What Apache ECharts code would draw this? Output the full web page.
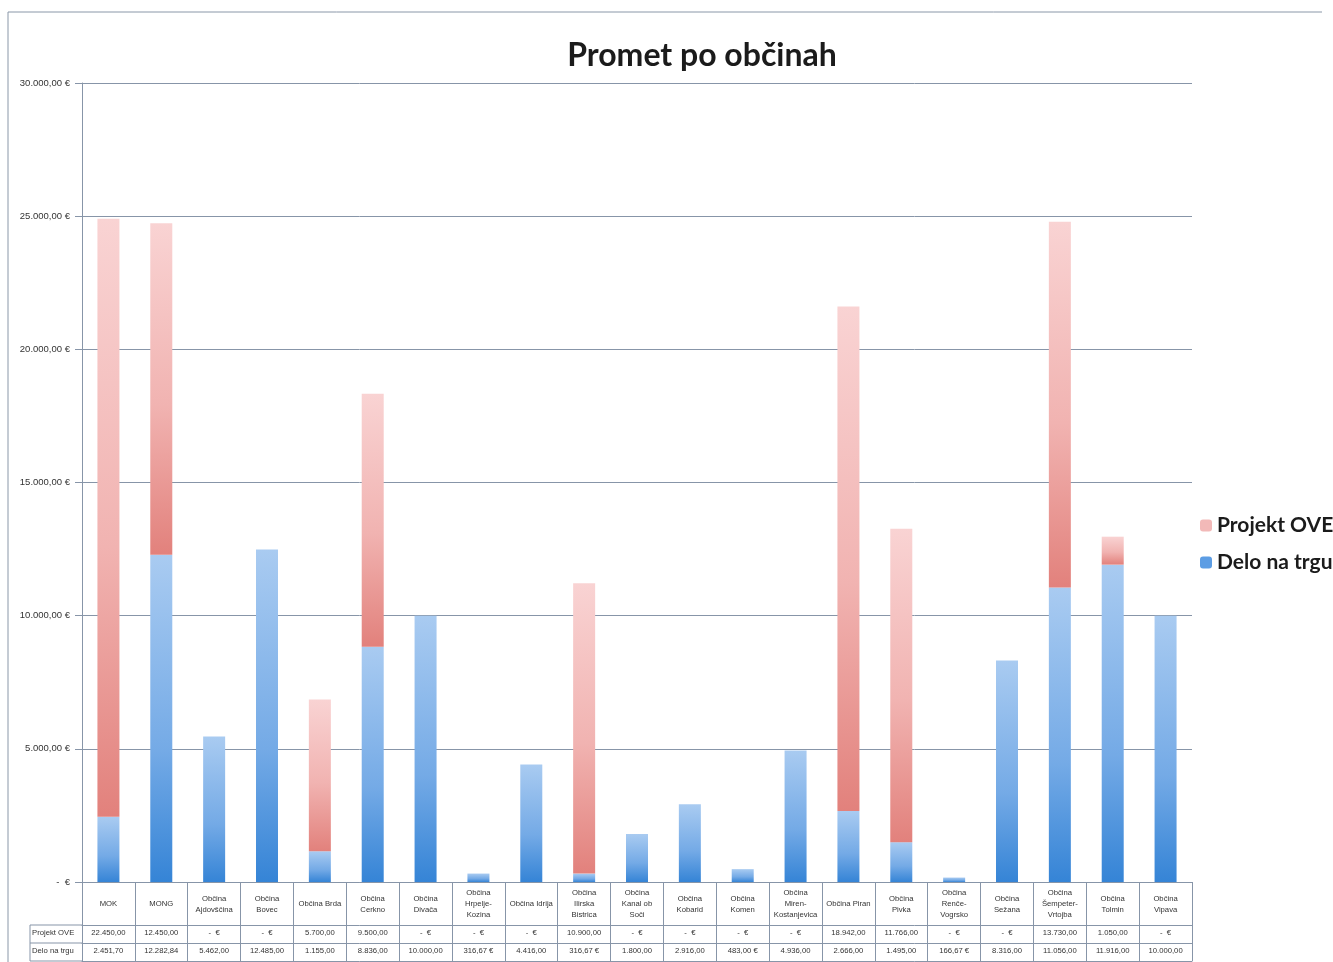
<!DOCTYPE html>
<html>
<head>
<meta charset="utf-8">
<script src="https://cdn.jsdelivr.net/npm/echarts@6/dist/echarts.min.js"></script>
<style>html,body{margin:0;padding:0;background:#fff;}#c{width:1333px;height:962px;}</style>
</head>
<body>
<div id="c"></div>
<script>
const categories = ['MOK','MONG','Občina Ajdovščina','Občina Bovec','Občina Brda','Občina Cerkno','Občina Divača','Občina Hrpelje-Kozina','Občina Idrija','Občina Ilirska Bistrica','Občina Kanal ob Soči','Občina Kobarid','Občina Komen','Občina Miren-Kostanjevica','Občina Piran','Občina Pivka','Občina Renče-Vogrsko','Občina Sežana','Občina Šempeter-Vrtojba','Občina Tolmin','Občina Vipava'];
const categoryLabels = ['MOK','MONG','Občina\nAjdovščina','Občina\nBovec','Občina Brda','Občina\nCerkno','Občina\nDivača','Občina\nHrpelje-\nKozina','Občina Idrija','Občina\nIlirska\nBistrica','Občina\nKanal ob\nSoči','Občina\nKobarid','Občina\nKomen','Občina\nMiren-\nKostanjevica','Občina Piran','Občina\nPivka','Občina\nRenče-\nVogrsko','Občina\nSežana','Občina\nŠempeter-\nVrtojba','Občina\nTolmin','Občina\nVipava'];
const projektOVE = [22450, 12450, 0, 0, 5700, 9500, 0, 0, 0, 10900, 0, 0, 0, 0, 18942, 11766, 0, 0, 13730, 1050, 0];
const deloNaTrgu = [2451.70, 12282.84, 5462, 12485, 1155, 8836, 10000, 316.67, 4416, 316.67, 1800, 2916, 483, 4936, 2666, 1495, 166.67, 8316, 11056, 11916, 10000];
const yTickValues = [0, 5000, 10000, 15000, 20000, 25000, 30000];
const yTickLabels = ['-  €', '5.000,00 €', '10.000,00 €', '15.000,00 €', '20.000,00 €', '25.000,00 €', '30.000,00 €'];

function fmt(v) {
  if (!v) return '-  €';
  const parts = v.toFixed(2).split('.');
  const int = parts[0].replace(/\B(?=(\d{3})+(?!\d))/g, '.');
  const s = int + ',' + parts[1];
  return v < 1000 ? s + ' €' : s;
}
const projLabels = projektOVE.map(fmt);
const deloLabels = deloNaTrgu.map(fmt);

const lineCol = '#8795a8';
const font = 'Liberation Sans, Arial, sans-serif';

const chart = echarts.init(document.getElementById('c'), null, {renderer: 'canvas'});
const blueGrad = new echarts.graphic.LinearGradient(0, 0, 0, 1, [{offset: 0, color: '#a9cbf1'}, {offset: 0.6, color: '#74aae6'}, {offset: 1, color: '#3584d6'}]);
const pinkGrad = new echarts.graphic.LinearGradient(0, 0, 0, 1, [{offset: 0, color: '#f9d3d3'}, {offset: 0.55, color: '#f1b3b1'}, {offset: 1, color: '#e2817c'}]);

function tableAxis(offset, labels, showLabel) {
  return {
    type: 'category', data: categories, position: 'bottom', offset: offset, gridIndex: 0,
    axisLine: {show: true, lineStyle: {color: lineCol, width: 1}},
    axisTick: {show: false},
    axisLabel: {show: showLabel, interval: 0, margin: 4, fontSize: 7.7, color: '#333', fontFamily: font,
      formatter: (v, i) => labels ? labels[i] : ''},
    splitLine: {show: false}
  };
}

chart.setOption({
  animation: false,
  backgroundColor: '#fff',
  title: {text: 'Promet po občinah', left: 697, top: 35, textAlign: 'center',
    textStyle: {fontFamily: 'Lato, Open Sans, sans-serif', fontWeight: 'bold', fontSize: 32, color: '#1b1b1b'}},
  legend: {
    orient: 'vertical', left: 1195, top: 510, itemWidth: 12, itemHeight: 12, itemGap: 16,
    textStyle: {fontFamily: 'Lato, Open Sans, sans-serif', fontWeight: 'bold', fontSize: 21, color: '#1b1b1b'},
    data: [{name: 'Projekt OVE', itemStyle: {color: '#f2b9b8'}}, {name: 'Delo na trgu', itemStyle: {color: '#5c9de4'}}]
  },
  grid: {left: 82, right: 141, top: 83, bottom: 80, containLabel: false},
  xAxis: [
    {
      type: 'category', data: categories, position: 'bottom',
      axisLine: {show: true, lineStyle: {color: lineCol, width: 1}},
      axisTick: {show: true, alignWithLabel: false, interval: 0, length: 79, lineStyle: {color: lineCol, width: 1}},
      axisLabel: {interval: 0, margin: 22, fontSize: 7.7, lineHeight: 11, color: '#333', fontFamily: font,
        verticalAlign: 'middle', align: 'center', formatter: (v, i) => categoryLabels[i]},
      splitLine: {show: false}
    },
    tableAxis(43, projLabels, true),
    tableAxis(61, deloLabels, true),
    tableAxis(79, null, false)
  ],
  yAxis: {
    type: 'value', min: 0, max: 30000, interval: 5000,
    axisLine: {show: true, lineStyle: {color: lineCol, width: 1}},
    axisTick: {show: true, length: 7, lineStyle: {color: lineCol}},
    axisLabel: {margin: 12, fontSize: 9.5, color: '#333', fontFamily: font,
      formatter: v => yTickLabels[yTickValues.indexOf(v)]},
    splitLine: {show: true, lineStyle: {color: lineCol, width: 1}}
  },
  series: [
    {name: 'Delo na trgu', type: 'bar', stack: 's', data: deloNaTrgu, barWidth: 22, itemStyle: {color: blueGrad}},
    {name: 'Projekt OVE', type: 'bar', stack: 's', data: projektOVE, barWidth: 22, itemStyle: {color: pinkGrad}}
  ],
  graphic: [
    {type: 'polyline', shape: {points: [[8, 962], [8, 12], [1322, 12]]}, style: {fill: 'none', stroke: '#8a97a8', lineWidth: 1}, silent: true},
    {type: 'line', shape: {x1: 30, y1: 925, x2: 82, y2: 925}, style: {stroke: lineCol, lineWidth: 1}},
    {type: 'line', shape: {x1: 30, y1: 943, x2: 82, y2: 943}, style: {stroke: lineCol, lineWidth: 1}},
    {type: 'line', shape: {x1: 30, y1: 961, x2: 82, y2: 961}, style: {stroke: lineCol, lineWidth: 1}},
    {type: 'line', shape: {x1: 30, y1: 925, x2: 30, y2: 961}, style: {stroke: lineCol, lineWidth: 1}},
    {type: 'text', left: 32, top: 929, style: {text: 'Projekt OVE', fontSize: 7.7, fill: '#333', fontFamily: font}},
    {type: 'text', left: 32, top: 947, style: {text: 'Delo na trgu', fontSize: 7.7, fill: '#333', fontFamily: font}}
  ]
});
</script>
</body>
</html>
